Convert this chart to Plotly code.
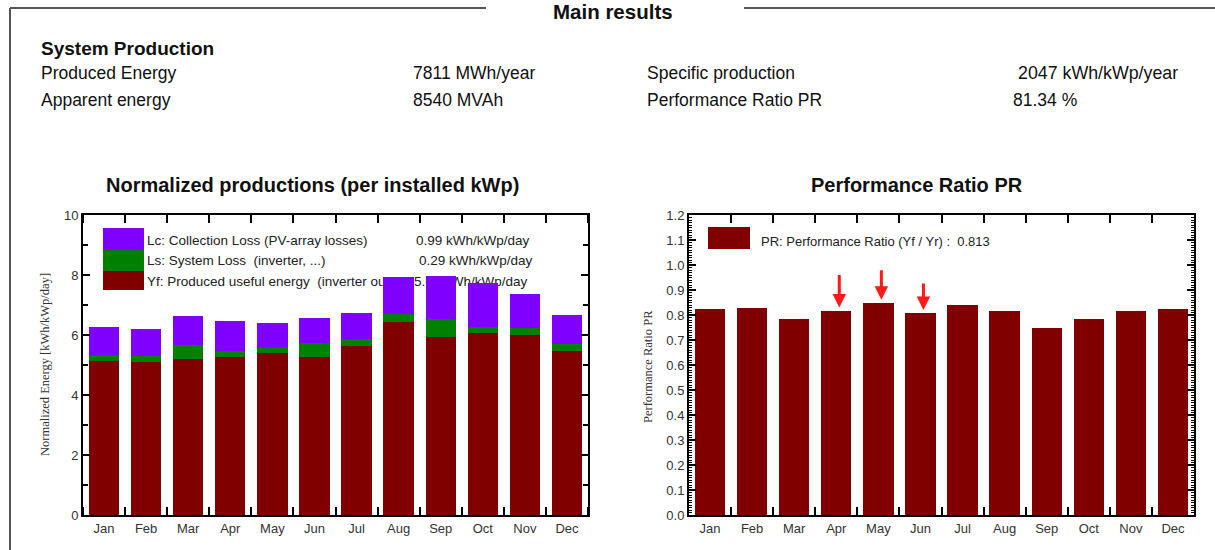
import plotly.graph_objects as go

# ---------------- data ----------------
months = ["Jan", "Feb", "Mar", "Apr", "May", "Jun", "Jul", "Aug", "Sep", "Oct", "Nov", "Dec"]
yf = [5.13, 5.11, 5.20, 5.26, 5.41, 5.28, 5.63, 6.43, 5.94, 6.06, 5.99, 5.48]   # produced useful energy
ls = [0.20, 0.19, 0.46, 0.21, 0.20, 0.45, 0.23, 0.27, 0.60, 0.22, 0.23, 0.22]   # system loss
lc = [0.95, 0.89, 0.97, 1.01, 0.80, 0.83, 0.86, 1.22, 1.42, 1.46, 1.16, 0.97]   # collection loss
pr = [0.823, 0.828, 0.786, 0.818, 0.849, 0.808, 0.842, 0.815, 0.747, 0.784, 0.815, 0.826]
arrow_months = ["Apr", "May", "Jun"]

legend_names = ["Lc: Collection Loss (PV-array losses)",
                "Ls: System Loss  (inverter, ...)",
                "Yf: Produced useful energy  (inverter output)"]
legend_values = ["0.99 kWh/kWp/day", "0.29 kWh/kWp/day", "5.61 kWh/kWp/day"]
pr_legend = "PR: Performance Ratio (Yf / Yr) :  0.813"

header_rows = [
    ("Produced Energy", "7811 MWh/year", "Specific production", "2047 kWh/kWp/year"),
    ("Apparent energy", "8540 MVAh", "Performance Ratio PR", "81.34 %"),
]

# ---------------- layout helpers ----------------
W, H = 1215, 550
def fx(p): return p / W
def fy(p): return 1 - p / H

L_X0, L_X1 = 83, 588
R_X0, R_X1 = 689, 1194
P_TOP, P_BOT = 215, 515
cat_w = (L_X1 - L_X0) / 12
def lx(p): return (p - L_X0) / cat_w - 0.5
def ly(p): return (P_BOT - p) / (P_BOT - P_TOP) * 10

PURPLE, GREEN, RED = "#8000ff", "#008000", "#800000"
SANS = "Liberation Sans, Arial, sans-serif"
SERIF = "Liberation Serif, Times New Roman, serif"

fig = go.Figure()

# legend text for left chart (under the bars, on base axes)
fig.add_trace(go.Scatter(
    x=[lx(147)] * 3 + [lx(416), lx(419), lx(414)],
    y=[ly(242), ly(262), ly(283)] * 2,
    text=legend_names + legend_values,
    mode="text", textposition="middle right",
    textfont=dict(family=SANS, size=13.5, color="#222"),
    hoverinfo="skip", showlegend=False, xaxis="x", yaxis="y"))

# stacked bars (overlay axes, drawn above the text)
idx = list(range(len(months)))
for vals, col, nm in [(yf, RED, "Yf"), (ls, GREEN, "Ls"), (lc, PURPLE, "Lc")]:
    fig.add_trace(go.Bar(x=idx, y=vals, name=nm, marker=dict(color=col, line=dict(width=0)),
                         xaxis="x3", yaxis="y3", showlegend=False))

# PR bars
fig.add_trace(go.Bar(x=months, y=pr, marker=dict(color=RED, line=dict(width=0)),
                     xaxis="x2", yaxis="y2", showlegend=False))

axis_common = dict(showline=True, linecolor="black", linewidth=2, mirror="ticks",
                   showgrid=False, zeroline=False, fixedrange=True,
                   tickfont=dict(family=SANS, size=13, color="#333"),
                   tickcolor="black", tickwidth=1.5)

fig.update_layout(
    autosize=True, margin=dict(l=0, r=0, t=0, b=0, autoexpand=False),
    paper_bgcolor="white", plot_bgcolor="white",
    barmode="stack", bargap=0.28, showlegend=False,
    xaxis=dict(domain=[fx(L_X0), fx(L_X1)], range=[-0.5, 11.5], anchor="y",
               tickmode="array", tickvals=idx, ticktext=months, ticks="",
               minor=dict(tick0=0.5, dtick=1, ticks="inside", ticklen=8,
                          tickcolor="black", tickwidth=1.5),
               **axis_common),
    yaxis=dict(domain=[fy(P_BOT), fy(P_TOP)], range=[0, 10], anchor="x",
               dtick=2, ticks="inside", ticklen=7,
               minor=dict(dtick=1, ticks="inside", ticklen=5, tickcolor="black", tickwidth=1.5),
               **axis_common),
    xaxis3=dict(overlaying="x", range=[-0.5, 11.5], anchor="y3", visible=False, fixedrange=True),
    yaxis3=dict(overlaying="y", range=[0, 10], anchor="x3", visible=False, fixedrange=True),
    xaxis2=dict(domain=[fx(R_X0), fx(R_X1)], type="category", range=[-0.5, 11.5], anchor="y2",
                tickson="boundaries", ticks="inside", ticklen=8, **axis_common),
    yaxis2=dict(domain=[fy(P_BOT), fy(P_TOP)], range=[0, 1.2], anchor="x2",
                dtick=0.1, tickformat=".1f", ticks="inside", ticklen=7,
                minor=dict(dtick=0.01, ticks="inside", ticklen=3, tickcolor="black", tickwidth=1),
                **axis_common),
)

shapes = []
# legend swatches
for (y0, y1), col in zip([(228, 250), (250, 271), (271, 290)], [PURPLE, GREEN, RED]):
    shapes.append(dict(type="rect", xref="paper", yref="paper", x0=fx(103), x1=fx(144),
                       y0=fy(y1), y1=fy(y0), fillcolor=col, line=dict(width=0)))
shapes.append(dict(type="rect", xref="paper", yref="paper", x0=fx(708), x1=fx(750),
                   y0=fy(249), y1=fy(227), fillcolor=RED, line=dict(width=0)))
# page frame
frame = dict(color="#555", width=2)
shapes.append(dict(type="line", xref="paper", yref="paper", x0=fx(10), x1=fx(486), y0=fy(8), y1=fy(8), line=frame))
shapes.append(dict(type="line", xref="paper", yref="paper", x0=fx(744), x1=1, y0=fy(8), y1=fy(8), line=frame))
shapes.append(dict(type="line", xref="paper", yref="paper", x0=fx(10), x1=fx(10), y0=0, y1=fy(8), line=frame))
fig.update_layout(shapes=shapes)

ann = []
def txt(x, y, s, size, bold=False, xanchor="left", family=SANS, color="#111", angle=0):
    ann.append(dict(xref="paper", yref="paper", x=fx(x), y=fy(y), text=f"<b>{s}</b>" if bold else s,
                    showarrow=False, xanchor=xanchor, yanchor="middle", textangle=angle,
                    font=dict(family=family, size=size, color=color)))

txt(613, 11.5, "Main results", 20.5, bold=True, xanchor="center")
txt(39, 48, "System Production", 19, bold=True)
for (a, b, c, d), y in zip(header_rows, [73, 100]):
    txt(39, y, a, 17.5)
    txt(411, y, b, 17.5)
    txt(645, y, c, 17.5)
txt(1016, 73, header_rows[0][3], 17.8)
txt(1011, 100, header_rows[1][3], 17.5)

txt(312, 185, "Normalized productions (per installed kWp)", 20, bold=True, xanchor="center")
txt(917, 185, "Performance Ratio PR", 20, bold=True, xanchor="center")
txt(45, 365, "Normalized Energy [kWh/kWp/day]", 12.5, xanchor="center", family=SERIF, color="#333", angle=-90)
txt(648, 367, "Performance Ratio PR", 12.5, xanchor="center", family=SERIF, color="#333", angle=-90)
txt(759, 241, pr_legend, 13, color="#222")

# red arrows
arrow_len = {"Apr": -34, "May": -31, "Jun": -28}
for m in arrow_months:
    v = pr[months.index(m)]
    ann.append(dict(xref="x2", yref="y2", x=m, y=v + 0.012, ax=0, ay=arrow_len[m], xshift=3,
                    showarrow=True, arrowcolor="#ff1a1a", arrowwidth=3, arrowhead=2,
                    arrowsize=0.9, text=""))
fig.update_layout(annotations=ann)

post = (
    "document.documentElement.style.margin='0';document.documentElement.style.overflow='hidden';"
    "document.body.style.margin='0';document.body.style.padding='0';document.body.style.overflow='hidden';"
)
fig.write_html("out.html", config={"displayModeBar": False, "responsive": True},
               default_width="100vw", default_height="100vh", post_script=post)
